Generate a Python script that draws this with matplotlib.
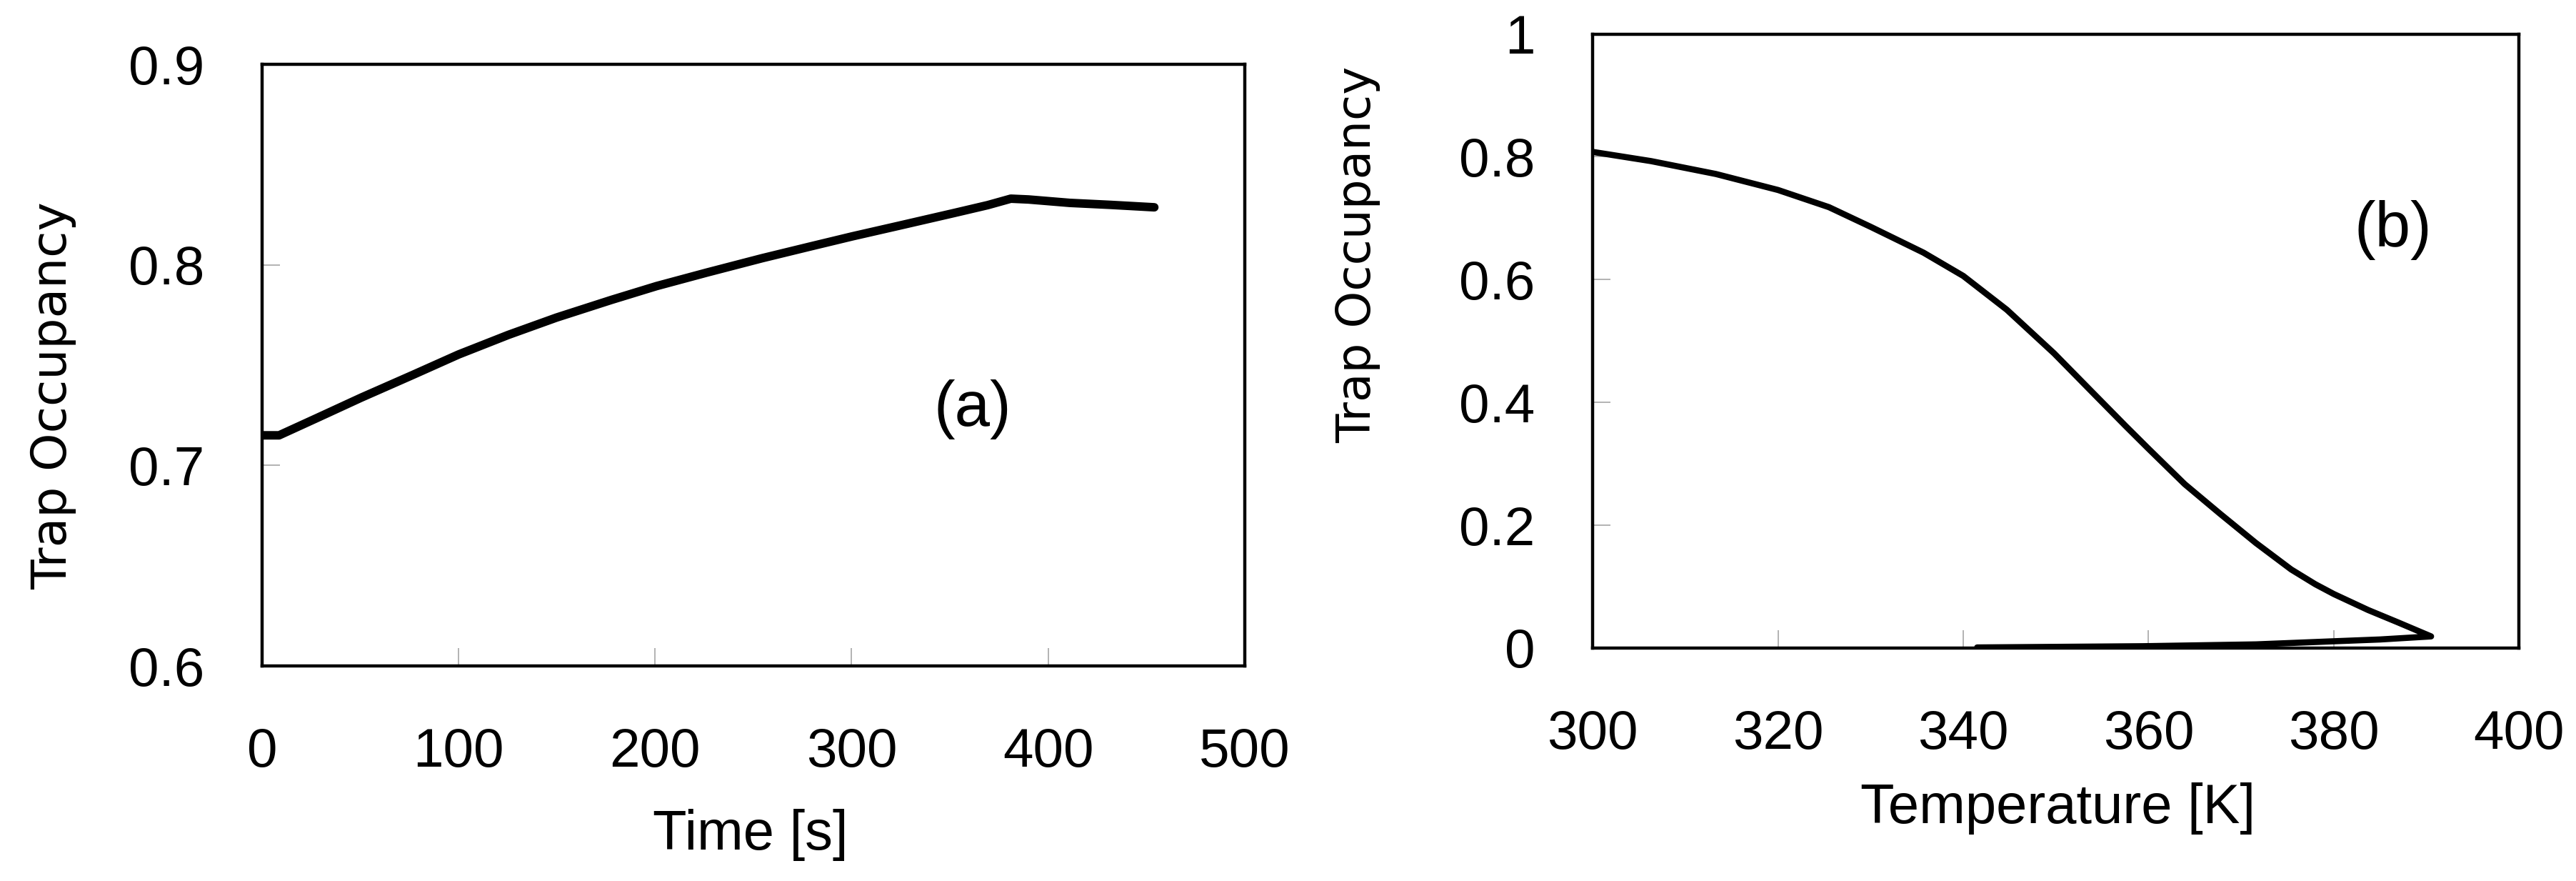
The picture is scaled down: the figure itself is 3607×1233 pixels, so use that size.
import matplotlib
matplotlib.use("Agg")
import matplotlib.pyplot as plt

# (a) trap occupancy vs time
time_s = [0, 8.7, 27.9, 50.5, 76.7, 100, 125.4, 149.8, 177.7, 200.7, 226.5,
          254.4, 278.7, 300.3, 324, 351.9, 369.3, 381, 390, 411, 432, 454]
occ_a = [0.715, 0.715, 0.7236, 0.7338, 0.7451, 0.7553, 0.7651, 0.7737, 0.7825,
         0.7894, 0.7962, 0.8033, 0.8091, 0.8142, 0.8195, 0.8258, 0.8298, 0.8330,
         0.8326, 0.8309, 0.8299, 0.8287]

# (b) trap occupancy vs temperature (down the curve, then back along the bottom)
temp_K = [300, 306.3, 313.3, 320, 325.5, 330, 335.7, 340, 344.7, 349.8, 354.3,
          357.5, 359.9, 363.9, 367.7, 371.6, 375.4, 378, 380, 383.7, 386.9,
          390.5, 385, 379.9, 371.6, 359.4, 341.5]
occ_b = [0.808, 0.793, 0.772, 0.746, 0.718, 0.686, 0.644, 0.606, 0.551, 0.480,
         0.411, 0.362, 0.326, 0.267, 0.219, 0.171, 0.128, 0.104, 0.088, 0.062,
         0.042, 0.019, 0.014, 0.011, 0.006, 0.003, 0.001]

ticks_a_x = [0, 100, 200, 300, 400, 500]
ticks_a_y = [0.6, 0.7, 0.8, 0.9]
ticks_b_x = [300, 320, 340, 360, 380, 400]
ticks_b_y = [0, 0.2, 0.4, 0.6, 0.8, 1.0]
labels_b_y = ["0", "0.2", "0.4", "0.6", "0.8", "1"]

plt.rcParams["font.family"] = ["Liberation Sans", "DejaVu Sans"]

fig = plt.figure(figsize=(36.07, 12.33), dpi=100)
ax1 = fig.add_axes([0.1017, 0.2441, 0.3815, 0.6829])
ax2 = fig.add_axes([0.6183, 0.2644, 0.3596, 0.6970])


def style(ax):
    for s in ax.spines.values():
        s.set_linewidth(3.2)
        s.set_color("black")
    ax.tick_params(direction="in", length=18, width=1.2, color="#a6a6a6",
                   labelsize=55, top=False, right=False)
    ax.tick_params(axis="x", pad=62)
    ax.tick_params(axis="y", pad=58)


ax1.plot(time_s, occ_a, color="black", lw=8.6, solid_capstyle="round",
         solid_joinstyle="round")
ax1.set_xlim(0, 500)
ax1.set_ylim(0.6, 0.9)
ax1.set_xticks(ticks_a_x)
ax1.set_yticks(ticks_a_y)
ax1.set_yticklabels(["0.6", "0.7", "0.8", "0.9"])
style(ax1)
ax1.text(361.6, 0.728, "(a)", fontsize=64, ha="center", va="center")

ax2.plot(temp_K, occ_b, color="black", lw=6.2, solid_capstyle="round",
         solid_joinstyle="round")
ax2.set_xlim(300, 400)
ax2.set_ylim(0, 1)
ax2.set_xticks(ticks_b_x)
ax2.set_yticks(ticks_b_y)
ax2.set_yticklabels(labels_b_y)
style(ax2)
ax2.text(386.4, 0.681, "(b)", fontsize=64, ha="center", va="center")

fig.text(0.2914, 0.052, "Time [s]", fontsize=56, ha="center", va="center")
fig.text(0.799, 0.082, "Temperature [K]", fontsize=56, ha="center", va="center")
fig.text(0.0205, 0.551, "Trap Occupancy", fontsize=49, rotation=90,
         ha="center", va="center", family="DejaVu Sans")
fig.text(0.527, 0.711, "Trap Occupancy", fontsize=47.5, rotation=90,
         ha="center", va="center", family="DejaVu Sans")

fig.savefig("out.png", dpi=100)
